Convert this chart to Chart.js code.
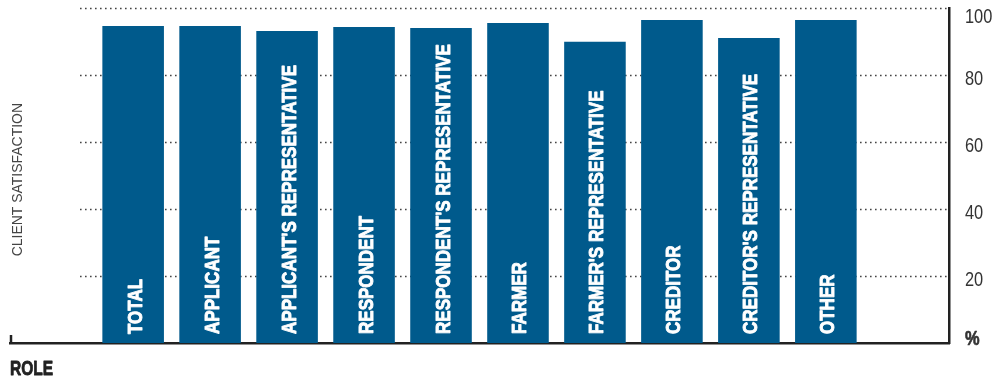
<!DOCTYPE html>
<html>
<head>
<meta charset="utf-8">
<script src="https://cdn.jsdelivr.net/npm/chart.js@4"></script>
<style>
    html, body { margin: 0; padding: 0; background: #fff; }
    #wrap { width: 997px; height: 383px; }
</style>
</head>
<body>
<div id="wrap"><canvas id="roleChart"></canvas></div>
<script>
const roles = ['TOTAL', 'APPLICANT', "APPLICANT'S REPRESENTATIVE", 'RESPONDENT', "RESPONDENT'S REPRESENTATIVE",
    'FARMER', "FARMER'S REPRESENTATIVE", 'CREDITOR', "CREDITOR'S REPRESENTATIVE", 'OTHER'];
const satisfaction = [94.7, 94.7, 93.2, 94.4, 94.1, 95.6, 90.0, 96.5, 91.1, 96.5];
const yTicks = [0, 20, 40, 60, 80, 100];

// no condensed face installed, so Liberation Sans gets squeezed sideways
const FONT = '"Liberation Sans", Arial, sans-serif';
const BAR_COLOR = '#005a8c';
const INK = '#222';

// heavy = extra stroke on top of the bold face, the original type is quite black
function squeezedText(ctx, text, x, y, font, sx, angle, heavy) {
    ctx.save();
    ctx.font = font;
    ctx.translate(x, y);
    if (angle) ctx.rotate(angle);
    ctx.scale(sx, 1);
    ctx.fillText(text, 0, 0);
    if (heavy) {
        ctx.strokeStyle = ctx.fillStyle;
        ctx.lineWidth = heavy;
        ctx.lineJoin = 'round';
        ctx.strokeText(text, 0, 0);
    }
    ctx.restore();
}

const decorations = {
    id: 'decorations',
    beforeDatasetsDraw(chart) {
        const { ctx, chartArea, scales } = chart;
        ctx.save();
        ctx.strokeStyle = '#444';
        ctx.lineWidth = 1.6;
        ctx.setLineDash([1.6, 3.4]);
        yTicks.filter(v => v > 0).forEach(v => {
            const y = Math.round(scales.y.getPixelForValue(v)) + 0.5;
            ctx.beginPath();
            ctx.moveTo(chartArea.left + 70, y);
            ctx.lineTo(chartArea.right, y);
            ctx.stroke();
        });
        ctx.restore();
    },
    afterDraw(chart) {
        const { ctx, chartArea, scales } = chart;
        const meta = chart.getDatasetMeta(0);
        ctx.save();
        ctx.textAlign = 'left';
        ctx.textBaseline = 'alphabetic';

        // role names inside the bars, reading upwards
        ctx.fillStyle = '#fff';
        meta.data.forEach((bar, i) => {
            squeezedText(ctx, roles[i], bar.x + 8.5, chartArea.bottom - 9,
                'bold 21px ' + FONT, 0.81, -Math.PI / 2, 0.9);
        });

        // value axis labels on the right
        ctx.fillStyle = '#333';
        yTicks.forEach(v => {
            const y = scales.y.getPixelForValue(v);
            const cy = Math.min(Math.max(y + 2, chartArea.top + 7), chartArea.bottom - 5.5);
            const font = (v === 0 ? 'bold ' : '') + '21px ' + FONT;
            squeezedText(ctx, v === 0 ? '%' : String(v), chartArea.right + 16, cy + 7.5, font, 0.78,
                0, v === 0 ? 0.7 : 0);
        });

        // axis titles
        ctx.fillStyle = '#444';
        ctx.textAlign = 'center';
        squeezedText(ctx, 'CLIENT SATISFACTION', 22, (chartArea.top + chartArea.bottom) / 2 + 4,
            '15px ' + FONT, 0.93, -Math.PI / 2);
        ctx.fillStyle = INK;
        ctx.textAlign = 'left';
        squeezedText(ctx, 'ROLE', chartArea.left, chartArea.bottom + 32, 'bold 21px ' + FONT, 0.74, 0, 0.8);
        ctx.restore();

        // small upward tick at the left end of the x axis
        ctx.save();
        ctx.strokeStyle = INK;
        ctx.lineWidth = 2.5;
        ctx.beginPath();
        ctx.moveTo(chartArea.left + 1, chartArea.bottom);
        ctx.lineTo(chartArea.left + 1, chartArea.bottom - 8);
        ctx.stroke();
        ctx.restore();
    }
};

new Chart(document.getElementById('roleChart'), {
    type: 'bar',
    data: {
        datasets: [{
            label: 'Client satisfaction',
            data: satisfaction.map((v, i) => ({ x: i, y: v })),
            backgroundColor: BAR_COLOR,
            borderWidth: 0,
            categoryPercentage: 1,
            barPercentage: 0.8
        }]
    },
    options: {
        responsive: true,
        maintainAspectRatio: false,
        animation: false,
        layout: { padding: { top: 8.3, left: 10, right: 48, bottom: 40 } },
        plugins: { legend: { display: false }, tooltip: { enabled: false } },
        scales: {
            x: {
                type: 'linear',
                offset: false,
                min: -1.6,
                max: 10.6,
                afterBuildTicks(scale) { scale.ticks = roles.map((_, i) => ({ value: i })); },
                grid: { display: false, drawTicks: false },
                ticks: { display: false },
                border: { display: true, color: INK, width: 2.5 }
            },
            y: {
                position: 'right',
                min: 0,
                max: 100,
                afterBuildTicks(scale) { scale.ticks = yTicks.map(v => ({ value: v })); },
                grid: { display: false, drawTicks: false },
                ticks: { display: false },
                border: { display: true, color: INK, width: 2.5 }
            }
        }
    },
    plugins: [decorations]
});
</script>
</body>
</html>
